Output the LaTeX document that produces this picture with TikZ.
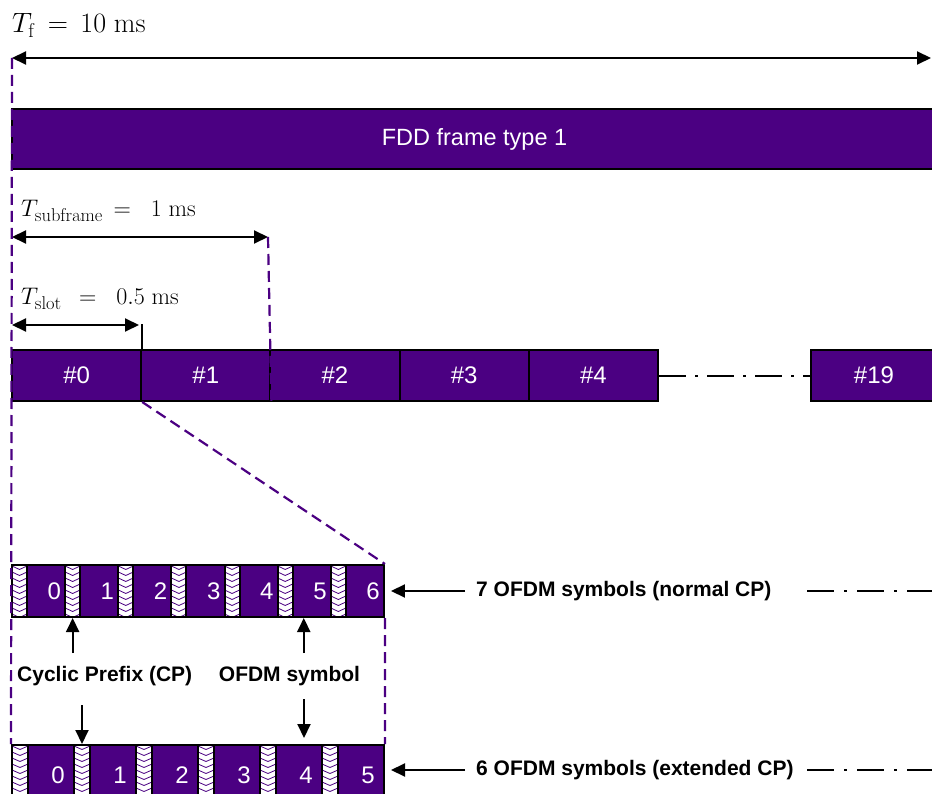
\RequirePackage{fix-cm}
\documentclass[tikz,border=0pt]{standalone}
\usepackage[no-math]{fontspec}
\setmainfont{Liberation Sans}
\usetikzlibrary{arrows.meta,calc}
\definecolor{frameviolet}{HTML}{4B0082}
\DeclareMathSizes{24}{24}{18.5}{14}
\DeclareMathSizes{28}{28}{20}{15}

\tikzset{
  hd/.tip={Triangle[length=14pt,width=13pt]},
  dimline/.style={line width=2pt, {hd}-{hd}},
  ptr/.style={line width=2pt, -{hd}},
  guide/.style={draw=frameviolet, line width=2.2pt, dash pattern=on 11pt off 6pt},
  dashdot/.style={line width=2pt, dash pattern=on 27pt off 10pt on 3pt off 10pt},
  box/.style={draw=black, line width=2pt, fill=frameviolet, inner sep=0pt, anchor=north west},
  slotbox/.style={box, minimum height=51pt, text=white, font=\fontsize{24}{28}\selectfont},
  symbox/.style={box, minimum height=52pt},
  symnum/.style={text=white, inner sep=0pt, anchor=east, font=\fontsize{24}{28}\selectfont},
  cpbox/.style={draw=black, line width=2pt, fill=white, inner sep=0pt, anchor=north west,
    minimum height=52pt,
    path picture={
      \foreach \k in {0,...,10}{
        \draw[frameviolet, line width=0.8pt]
          ([yshift=-\k*6pt-1pt]path picture bounding box.north west)
          -- ([yshift=-\k*6pt-4.5pt]path picture bounding box.north)
          -- ([yshift=-\k*6pt-1pt]path picture bounding box.north east);
      }
    }},
  boldlbl/.style={font=\bfseries\fontsize{21}{25}\selectfont, inner sep=0pt},
  mathlbl/.style={inner sep=0pt, anchor=base west},
}

\begin{document}
\begin{tikzpicture}[x=1pt, y=-1pt]
\useasboundingbox (0,0) rectangle (932,794);

% frame duration
\node[mathlbl, font=\fontsize{28}{32}\selectfont] (tf) at (12,33) {$T_{\mathrm{f}} \,=\, 10\ \mathrm{ms}$};
\coordinate (tfL) at (12,58);
\coordinate (tfR) at (931,58);
\draw[dimline] (tfL) -- (tfR);

% radio frame
\node[box, minimum width=925pt, minimum height=60pt, text=white,
      font=\fontsize{23.5}{28}\selectfont] (fdd) at (11,108) {FDD frame type 1};

% slots
\foreach \k in {0,...,4}{
  \node[slotbox, minimum width=129.2pt] (slot\k) at (11+129.2*\k,349) {\#\k};
}
\node[slotbox, minimum width=126pt] (slot19) at (810,349) {\#19};
\draw[dashdot, dash pattern=on 27pt off 9pt on 3pt off 9pt] (slot4.east) -- (slot19.west);

% subframe and slot durations
\node[mathlbl, font=\fontsize{24}{28}\selectfont] (tsf) at (21,217) {$T_{\mathrm{subframe}} \,=\ \ 1\ \mathrm{ms}$};
\coordinate (sfL) at (12,237);
\coordinate (sfR) at (268,237);
\draw[dimline] (sfL) -- (sfR);

\node[mathlbl, font=\fontsize{24}{28}\selectfont] (tsl) at (21,305) {$T_{\mathrm{slot}}\ \,=\ \ 0.5\ \mathrm{ms}$};
\coordinate (slL) at (12,325);
\coordinate (slR) at (139,325);
\draw[dimline] (slL) -- (slR);
\draw[line width=2pt] (slot0.north east) -- ++(0,-25);

% normal cyclic prefix: 7 symbols
\foreach \i in {0,...,6}{
  \pgfmathsetmacro\xa{11+53.14*\i}
  \node[cpbox, minimum width=15pt] (cpA\i) at (\xa,564) {};
  \node[symbox, minimum width=38.14pt] (symA\i) at (\xa+15,564) {};
  \node[symnum] (numA\i) at ([xshift=-5pt]symA\i.east) {\i};
}

% extended cyclic prefix: 6 symbols
\foreach \i in {0,...,5}{
  \pgfmathsetmacro\xb{11+62*\i}
  \node[cpbox, minimum width=16pt, minimum height=56pt] (cpB\i) at (\xb,744) {};
  \node[symbox, minimum width=46pt, minimum height=56pt] (symB\i) at (\xb+16,744) {};
  \node[symnum] (numB\i) at ([xshift=-10pt,yshift=-2pt]symB\i.east) {\i};
}

% guide lines
\draw[guide] (tfL) -- (cpB0.north west);
\draw[guide] (sfR) -- (slot1.south east);
\draw[guide] (slot0.south east) -- (symA6.north east);
\draw[guide] (symA6.south east) -- (symB5.north east);

% callouts
\node[boldlbl, anchor=west] (cplbl) at (17,676) {Cyclic Prefix (CP)};
\node[boldlbl] (symlbl) at (289.5,676) {OFDM symbol};
\draw[ptr] (cpA1.south |- 0,653) -- (cpA1.south);
\draw[ptr] ([xshift=-8pt]symA5.south |- 0,653) -- ([xshift=-8pt]symA5.south);
\draw[ptr] (cpB1.north |- 0,705) -- (cpB1.north);
\draw[ptr] ([xshift=5pt]symB4.north |- 0,699) -- ([xshift=5pt,yshift=6pt]symB4.north);

% row captions
\node[boldlbl, anchor=west] (nlbl) at (476,591) {7 OFDM symbols (normal CP)};
\draw[ptr] ([xshift=-11pt]nlbl.west) -- ([xshift=6pt]symA6.east);
\coordinate (nA) at (807,591);
\coordinate (nB) at (932,591);
\draw[dashdot] (nA) -- (nB);

\node[boldlbl, anchor=west] (elbl) at (476,770) {6 OFDM symbols (extended CP)};
\draw[ptr] ([xshift=-11pt]elbl.west) -- ([xshift=6pt]symB5.east |- elbl.west);
\coordinate (eA) at (807,770);
\coordinate (eB) at (932,770);
\draw[dashdot] (eA) -- (eB);
\end{tikzpicture}
\end{document}
